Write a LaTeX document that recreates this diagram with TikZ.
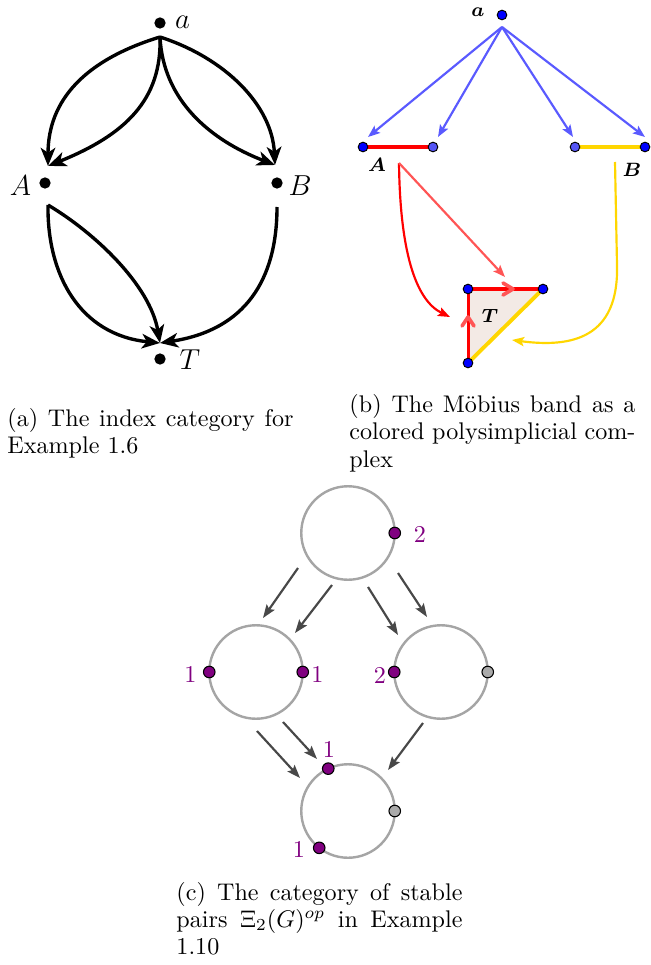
\documentclass[tikz,border=0pt]{standalone}
\usetikzlibrary{arrows.meta}
\definecolor{cpurple}{RGB}{128,0,128}
\definecolor{cblue}{RGB}{0,0,255}
\definecolor{clblue}{RGB}{85,85,245}
\definecolor{carrblue}{RGB}{90,90,255}
\definecolor{cred}{RGB}{255,0,0}
\definecolor{clred}{RGB}{255,85,85}
\definecolor{cyellow}{RGB}{255,214,0}
\definecolor{cbeige}{RGB}{243,234,229}
\definecolor{cgraycirc}{RGB}{165,165,165}
\definecolor{cgraydot}{RGB}{170,170,170}
\definecolor{carrgray}{RGB}{72,72,72}
\begin{document}
\begin{tikzpicture}[x=0.415pt,y=-0.415pt,
  bdot/.style={circle,fill=black,inner sep=0pt,minimum size=4.7pt},
  alabel/.style={inner sep=0pt,font=\fontsize{12}{14}\selectfont},
  arrA/.style={line width=1.4pt,-{Stealth[length=7.5pt,width=6pt,inset=2pt]}},
  pdot/.style={circle,draw=black,line width=0.4pt,fill=cblue,inner sep=0pt,minimum size=4pt},
  pdotl/.style={pdot,fill=clblue},
  blabel/.style={inner sep=0pt,font=\fontsize{8}{9}\selectfont\boldmath},
  arrB/.style={line width=0.9pt,-{Stealth[length=5pt,width=3.8pt,inset=1pt]}},
  ringnode/.style={circle,draw=cgraycirc,line width=1pt,minimum size=38.8pt,inner sep=0pt,outer sep=0pt},
  sdot/.style={circle,draw=black,line width=0.45pt,fill=cpurple,inner sep=0pt,minimum size=4.8pt},
  gdot/.style={sdot,fill=cgraydot},
  clabel/.style={inner sep=0pt,text=cpurple,font=\fontsize{10}{12}\selectfont},
  arrC/.style={line width=0.9pt,draw=carrgray,-{Stealth[length=5.5pt,width=4pt,inset=1pt]}},
  capt/.style={anchor=base west,inner sep=0pt,text width=118.7pt,align=justify,font=\fontsize{10}{11.3}\selectfont}
]
\useasboundingbox (0,0) rectangle (650,965);

% ---------------- panel (a) ----------------
\node[bdot] (a) at (160,23) {};
\node[bdot] (A) at (45,183) {};
\node[bdot] (B) at (277,183) {};
\node[bdot] (T) at (160,359) {};
\node[alabel] (la) at (182.5,22) {$a$};
\node[alabel] (lA) at (20.5,186) {$A$};
\node[alabel] (lB) at (300,186) {$B$};
\node[alabel] (lT) at (190,360) {$T$};
\coordinate (a-o) at (160,37);
\coordinate (A-i) at (48,166);
\coordinate (B-i) at (275,165);
\coordinate (A-o) at (48,205);
\coordinate (B-o) at (277,207);
\coordinate (T-i) at (160,343);
\draw[arrA] (a-o) .. controls (85,60) and (48,100) .. (A-i);
\draw[arrA] (a-o) .. controls (162,100) and (125,135) .. (A-i);
\draw[arrA] (a-o) .. controls (225,58) and (272,105) .. (B-i);
\draw[arrA] (a-o) .. controls (163,100) and (210,140) .. (B-i);
\draw[arrA] (A-o) .. controls (47,275) and (80,335) .. (T-i);
\draw[arrA] (A-o) .. controls (95,233) and (150,285) .. (T-i);
\draw[arrA] (B-o) .. controls (277,280) and (245,330) .. (T-i);

% ---------------- panel (b) ----------------
\coordinate (pa) at (502,15);
\coordinate (pA1) at (363,147);
\coordinate (pA2) at (433,147);
\coordinate (pB1) at (575,147);
\coordinate (pB2) at (645,147);
\coordinate (pT1) at (468,289);
\coordinate (pT2) at (543,289);
\coordinate (pT3) at (468,363);
\fill[cbeige] (pT1) -- (pT2) -- (pT3) -- cycle;
\draw[cyellow,line width=1.6pt] (pT2) -- (pT3);
\draw[cred,line width=1.25pt] (pT2) -- (pT1) -- (pT3);
\draw[clred,line width=1.5pt,line cap=round,line join=round] (503,283) -- (513,289) -- (503,295);
\draw[clred,line width=1.5pt,line cap=round,line join=round] (462,326) -- (468,317) -- (474,326);
\draw[cred,line width=1.25pt] (pA1) -- (pA2);
\draw[cyellow,line width=1.25pt] (pB1) -- (pB2);

\coordinate (pa-o) at (502,27);
\coordinate (tA1) at (368,137);
\coordinate (tA2) at (438,137);
\coordinate (tB1) at (573,137);
\coordinate (tB2) at (645,137);
\draw[arrB,carrblue] (pa-o) -- (tA1);
\draw[arrB,carrblue] (pa-o) -- (tA2);
\draw[arrB,carrblue] (pa-o) -- (tB1);
\draw[arrB,carrblue] (pa-o) -- (tB2);

\coordinate (pA-o) at (399,163);
\coordinate (tTl) at (450,317);
\coordinate (tTt) at (505,277);
\coordinate (pB-o) at (615,162);
\coordinate (pB-m) at (617,265);
\coordinate (tTh) at (512,340);
\draw[arrB,cred] (pA-o) .. controls (400,250) and (415,300) .. (tTl);
\draw[arrB,clred] (pA-o) -- (tTt);
\draw[arrB,cyellow] (pB-o) -- (pB-m) .. controls (619,338) and (572,348) .. (tTh);

\node[pdot] (va) at (pa) {};
\node[pdot] (vA1) at (pA1) {};
\node[pdotl] (vA2) at (pA2) {};
\node[pdotl] (vB1) at (pB1) {};
\node[pdot] (vB2) at (pB2) {};
\node[pdot] (vT1) at (pT1) {};
\node[pdot] (vT2) at (pT2) {};
\node[pdot] (vT3) at (pT3) {};
\node[blabel] (lva) at (478,12) {$a$};
\node[blabel] (lvA) at (377,165) {$A$};
\node[blabel] (lvB) at (632,170) {$B$};
\node[blabel] (lvT) at (490,316) {$T$};

% ---------------- panel (c) ----------------
\node[ringnode] (ctop) at (348,533) {};
\node[ringnode] (cleft) at (256,672) {};
\node[ringnode] (cright) at (441,672) {};
\node[ringnode] (cbot) at (348,811) {};
\node[sdot] (d1) at (ctop.east) {};
\node[sdot] (d2) at (cleft.west) {};
\node[sdot] (d3) at (cleft.east) {};
\node[sdot] (d4) at (cright.west) {};
\node[gdot] (d5) at (cright.east) {};
\node[sdot] (d6) at (cbot.115) {};
\node[gdot] (d7) at (cbot.east) {};
\node[sdot] (d8) at (cbot.232) {};
\node[clabel] (l1) at (420,534) {2};
\node[clabel] (l2) at (190.3,674) {1};
\node[clabel] (l3) at (317.3,674) {1};
\node[clabel] (l4) at (380,675) {2};
\node[clabel] (l6) at (329,749) {1};
\node[clabel] (l8) at (299,849) {1};

\coordinate (s1) at (298,568); \coordinate (e1) at (263,618);
\coordinate (s2) at (332,585); \coordinate (e2) at (295,633);
\coordinate (s3) at (368,587); \coordinate (e3) at (398,635);
\coordinate (s4) at (398,573); \coordinate (e4) at (427,617);
\coordinate (s5) at (257,731); \coordinate (e5) at (300,778);
\coordinate (s6) at (283,722); \coordinate (e6) at (317,759);
\coordinate (s7) at (423,723); \coordinate (e7) at (388,770);
\foreach \i in {1,...,7} { \draw[arrC] (s\i) -- (e\i); }

% ---------------- captions ----------------
\node[capt] (capa) at (7,426.5) {(a) The index category for\linebreak Example 1.6};
\node[capt] (capb) at (349,412.7) {(b) The M\"obius band as a\linebreak colored polysimplicial com-\linebreak plex};
\node[capt] (capc) at (176,900) {(c) The category of stable\linebreak pairs $\Xi_2(G)^{op}$ in Example\linebreak 1.10};
\end{tikzpicture}
\end{document}
